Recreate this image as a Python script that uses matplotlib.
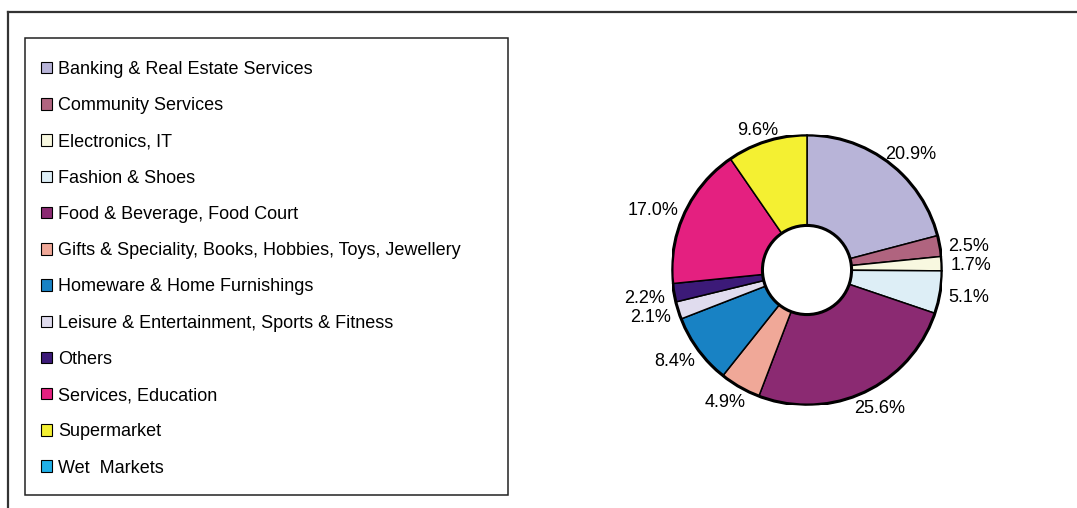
import matplotlib
matplotlib.use("Agg")
import numpy as np
import matplotlib.pyplot as plt
from matplotlib.patches import Patch, Rectangle, Circle
from matplotlib.lines import Line2D

plt.rcParams['font.family'] = ['Liberation Sans', 'DejaVu Sans']

# udzialy najemcow wg kategorii (%)
kategorie = [
    "Banking & Real Estate Services",
    "Community Services",
    "Electronics, IT",
    "Fashion & Shoes",
    "Food & Beverage, Food Court",
    "Gifts & Speciality, Books, Hobbies, Toys, Jewellery",
    "Homeware & Home Furnishings",
    "Leisure & Entertainment, Sports & Fitness",
    "Others",
    "Services, Education",
    "Supermarket",
    "Wet  Markets",
]
udzialy = [20.9, 2.5, 1.7, 5.1, 25.6, 4.9, 8.4, 2.1, 2.2, 17.0, 9.6, 0.0]
kolory = ['#b8b4d8', '#b0647f', '#f8f8e0', '#ddeef6', '#8b2a72', '#f0a898',
          '#1882c4', '#e0dcee', '#3c1a78', '#e42080', '#f4f032', '#20b0e8']

W, H = 1077, 508
fig = plt.figure(figsize=(W / 100, H / 100), dpi=100)

# ramka zewnetrzna (gora i lewa krawedz)
fig.add_artist(Line2D([8 / W, 1.0], [1 - 12 / H, 1 - 12 / H], color='#333333', lw=1.6))
fig.add_artist(Line2D([8 / W, 8 / W], [0, 1 - 12 / H], color='#333333', lw=1.6))

# ramka legendy
fig.add_artist(Rectangle((25 / W, 1 - 495 / H), 483 / W, 457 / H, fill=False,
                         edgecolor='#222222', lw=1.1, transform=fig.transFigure))

# wykres pierscieniowy
cx, cy, r = 807, 270, 135
ax = fig.add_axes([(cx - r) / W, (H - cy - r) / H, 2 * r / W, 2 * r / H])
ax.axis('off')

niezerowe = [i for i, v in enumerate(udzialy) if v > 0]
wartosci = [udzialy[i] for i in niezerowe]
wedges, _ = ax.pie(wartosci, colors=[kolory[i] for i in niezerowe], startangle=90,
                   counterclock=False, radius=1,
                   wedgeprops=dict(edgecolor='black', linewidth=1.1))
ax.add_patch(Circle((0, 0), 1, fill=False, edgecolor='black', lw=2.2))
ax.add_patch(Circle((0, 0), 0.33, facecolor='white', edgecolor='black', lw=2.2, zorder=5))
ax.set_xlim(-1, 1)
ax.set_ylim(-1, 1)

# etykiety procentowe: ramka tekstu odsunieta od krawedzi o staly odstep
odstep = 9  # px
renderer = fig.canvas.get_renderer()
for w, v in zip(wedges, wartosci):
    kat = np.deg2rad((w.theta1 + w.theta2) / 2)
    x, y = np.cos(kat), np.sin(kat)
    t = ax.text(0, 0, f"{v:.1f}%", ha='center', va='center', fontsize=13, clip_on=False)
    bb = t.get_window_extent(renderer)
    px = x * (r + odstep) + x * bb.width / 2
    py = y * (r + odstep) + y * (bb.height - 6) / 2 - 3
    t.set_position((px / r, py / r))

# legenda
uchwyty = [Patch(facecolor=k, edgecolor='black', lw=0.8) for k in kolory]
fig.legend(uchwyty, kategorie, loc='upper left', bbox_to_anchor=(41 / W, 1 - 61 / H),
           frameon=False, fontsize=13, handlelength=0.6, handleheight=0.6,
           handletextpad=0.33, labelspacing=1.065, borderpad=0, borderaxespad=0)

fig.savefig('out.png', dpi=100)
